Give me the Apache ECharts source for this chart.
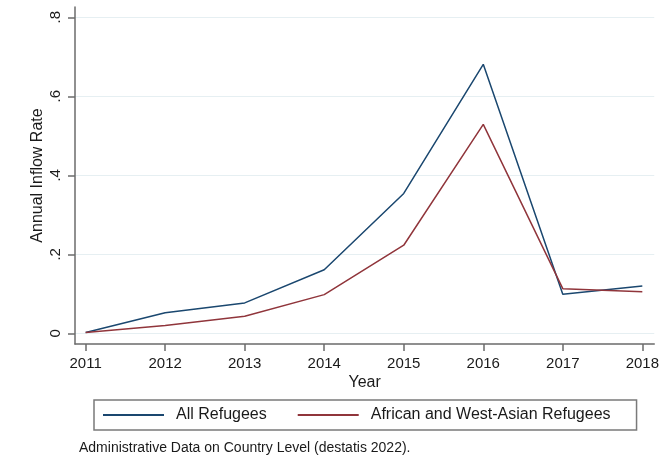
<!DOCTYPE html>
<html>
<head>
<meta charset="utf-8">
<script src="https://cdn.jsdelivr.net/npm/echarts@6/dist/echarts.min.js"></script>
<style>
html,body{margin:0;padding:0;background:#fff;}
#chart{width:662px;height:468px;}
</style>
</head>
<body>
<div id="chart"></div>
<script>
var years = [2011, 2012, 2013, 2014, 2015, 2016, 2017, 2018];
var allRefugees = [0.002, 0.052, 0.077, 0.161, 0.354, 0.681, 0.099, 0.120];
var africanWestAsian = [0.002, 0.020, 0.043, 0.098, 0.223, 0.529, 0.113, 0.105];
var yTicks = [0, 0.2, 0.4, 0.6, 0.8];
var seriesNames = ['All Refugees', 'African and West-Asian Refugees'];
var footnote = 'Administrative Data on Country Level (destatis 2022).';

var font = 'Liberation Sans, Arial, sans-serif';
var chart = echarts.init(document.getElementById('chart'), null, {renderer: 'canvas'});

function pairs(vals) {
  return years.map(function (y, i) { return [y, vals[i]]; });
}

chart.setOption({
  backgroundColor: '#fff',
  animation: false,
  grid: {left: 75, right: 5, top: 7, bottom: 124, containLabel: false},
  xAxis: {
    type: 'value',
    min: 2010.866,
    max: 2018.150,
    name: 'Year',
    nameLocation: 'middle',
    nameGap: 31,
    nameMoveOverlap: false,
    nameTextStyle: {color: '#1a1a1a', fontSize: 16, fontFamily: font},
    axisLine: {show: true, onZero: false, lineStyle: {color: '#6b6b6b', width: 1.5}},
    axisTick: {show: true, inside: false, length: 7, customValues: years, lineStyle: {color: '#6b6b6b', width: 1.5}},
    axisLabel: {customValues: years, margin: 12, color: '#1a1a1a', fontSize: 15, fontFamily: font,
      formatter: function (v) { return String(Math.round(v)); }},
    splitLine: {show: false}
  },
  yAxis: {
    type: 'value',
    min: -0.027,
    max: 0.826,
    name: 'Annual Inflow Rate',
    nameLocation: 'middle',
    nameGap: 29,
    nameMoveOverlap: false,
    nameTextStyle: {color: '#1a1a1a', fontSize: 16, fontFamily: font},
    axisLine: {show: true, onZero: false, lineStyle: {color: '#6b6b6b', width: 1.5}},
    axisTick: {show: true, inside: false, length: 7, customValues: yTicks, lineStyle: {color: '#6b6b6b', width: 1.5}},
    axisLabel: {customValues: yTicks, rotate: 90, margin: 12, color: '#1a1a1a', fontSize: 15, fontFamily: font,
      formatter: function (v) { return v === 0 ? '0' : String(Math.round(v * 10) / 10).replace(/^0\./, '.'); }},
    splitLine: {show: true, customValues: yTicks, lineStyle: {color: '#e6eff2', width: 1.2}}
  },
  legend: {
    left: 94,
    top: 400,
    orient: 'horizontal',
    itemWidth: 61,
    itemHeight: 14,
    itemGap: 30,
    padding: [7, 26, 7, 8],
    borderColor: '#7a7a7a',
    borderWidth: 1.5,
    borderRadius: 0,
    itemStyle: {opacity: 0},
    textStyle: {color: '#1a1a1a', fontSize: 16, fontFamily: font, padding: [0, 0, 0, 7]},
    data: seriesNames
  },
  graphic: [{
    type: 'text',
    left: 79,
    top: 441,
    style: {text: footnote, fill: '#1a1a1a', font: '14px ' + font}
  }],
  series: [
    {name: seriesNames[0], type: 'line', data: pairs(allRefugees), symbol: 'none', showSymbol: false,
      lineStyle: {color: '#1a476f', width: 1.5}, itemStyle: {color: '#1a476f'}},
    {name: seriesNames[1], type: 'line', data: pairs(africanWestAsian), symbol: 'none', showSymbol: false,
      lineStyle: {color: '#90353b', width: 1.5}, itemStyle: {color: '#90353b'}}
  ]
});
</script>
</body>
</html>
